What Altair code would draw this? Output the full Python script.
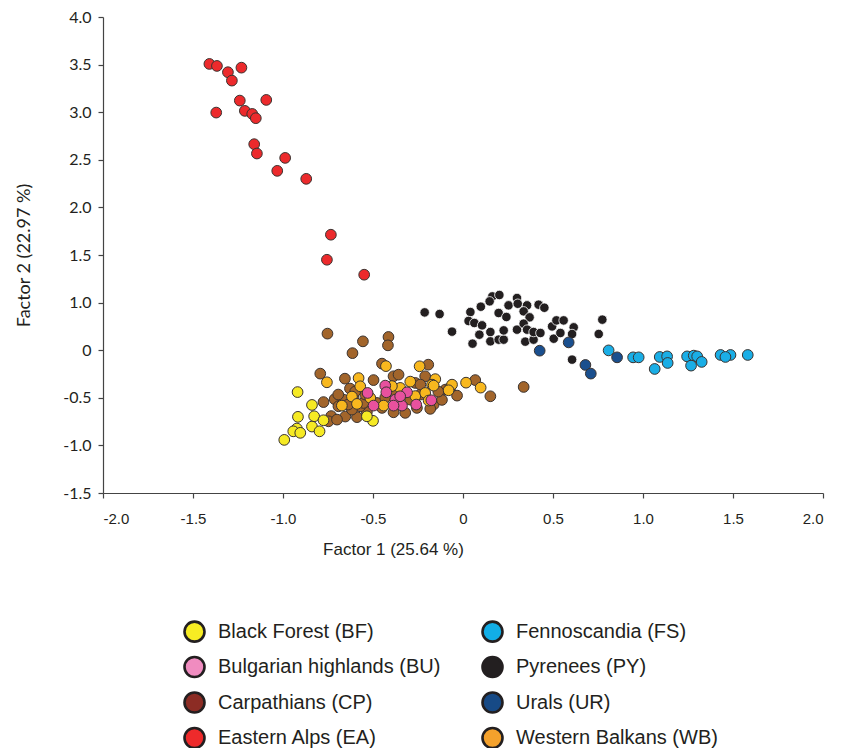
import altair as alt
import pandas as pd

# ---- data (x = Factor 1, y = Factor 2 position on the plotted scale) ----
groups = ["Black Forest (BF)", "Bulgarian highlands (BU)", "Carpathians (CP)", "Eastern Alps (EA)",
          "Fennoscandia (FS)", "Pyrenees (PY)", "Urals (UR)", "Western Balkans (WB)"]

bf_x = [-0.919, -0.839, -0.917, -0.827, -0.923, -0.943, -0.904, -0.839, -0.797, -0.993, -0.775, -0.500, -0.534]
bf_y = [-0.440, -0.575, -0.700, -0.694, -0.823, -0.852, -0.868, -0.802, -0.852, -0.942, -0.736, -0.742, -0.694]

bu_x = [-0.530, -0.497, -0.432, -0.426, -0.376, -0.339, -0.311, -0.260, -0.176, -0.386, -0.349]
bu_y = [-0.449, -0.582, -0.372, -0.442, -0.519, -0.582, -0.442, -0.571, -0.526, -0.582, -0.484]

cp_x = [-0.753, -0.556, -0.614, -0.414, -0.417, -0.450, -0.793, -0.656, -0.628, -0.775, -0.713, -0.732,
        -0.692, -0.654, -0.589, -0.534, -0.497, -0.386, -0.358, -0.321, -0.386, -0.193, -0.210, -0.163,
        -0.117, -0.033, 0.068, 0.152, -0.265, -0.256, -0.450, -0.747, -0.700, -0.571, -0.664, -0.608,
        0.337, -0.617, -0.553, -0.478, -0.182, -0.543, -0.432, -0.293, -0.237, -0.098, -0.349, -0.376,
        -0.599, -0.693, -0.638, -0.237, -0.137, -0.071]
cp_y = [0.174, 0.093, -0.031, 0.139, 0.051, -0.141, -0.246, -0.299, -0.403, -0.545, -0.514, -0.692,
        -0.589, -0.697, -0.703, -0.650, -0.314, -0.274, -0.257, -0.658, -0.652, -0.152, -0.274, -0.571,
        -0.522, -0.477, -0.314, -0.484, -0.344, -0.606, -0.606, -0.747, -0.729, -0.589, -0.519, -0.501,
        -0.386, -0.624, -0.554, -0.554, -0.616, -0.466, -0.498, -0.519, -0.466, -0.414, -0.571, -0.435,
        -0.435, -0.466, -0.571, -0.361, -0.435, -0.393]

ea_x = [-1.409, -1.367, -1.306, -1.284, -1.231, -1.240, -1.093, -1.371, -1.212, -1.171, -1.151, -1.160,
        -1.145, -0.988, -1.032, -0.871, -0.734, -0.756, -0.549]
ea_y = [3.007, 2.986, 2.920, 2.832, 2.968, 2.622, 2.629, 2.496, 2.514, 2.482, 2.437, 2.164,
        2.066, 2.020, 1.884, 1.800, 1.213, 0.950, 0.793]

fs_x = [0.809, 0.945, 0.976, 1.093, 1.134, 1.137, 1.065, 1.245, 1.282, 1.301, 1.267, 1.326, 1.431, 1.486, 1.458, 1.582]
fs_y = [-0.002, -0.075, -0.075, -0.071, -0.065, -0.134, -0.197, -0.065, -0.057, -0.065, -0.162, -0.123, -0.050, -0.050, -0.071, -0.050]

py_x = [-0.213, -0.130, -0.061, 0.041, 0.053, 0.031, 0.063, 0.106, 0.091, 0.152, 0.152, 0.198, 0.226, 0.226,
        0.163, 0.202, 0.148, 0.198, 0.241, 0.253, 0.300, 0.304, 0.356, 0.337, 0.370, 0.300, 0.337, 0.356,
        0.346, 0.392, 0.392, 0.430, 0.420, 0.452, 0.504, 0.495, 0.519, 0.559, 0.541, 0.615, 0.606, 0.754,
        0.606, 0.774, 0.099]
py_y = [0.397, 0.380, 0.195, 0.401, 0.069, 0.307, 0.286, 0.261, 0.163, 0.191, 0.093, 0.111, 0.111, 0.208,
        0.565, 0.580, 0.513, 0.391, 0.349, 0.471, 0.548, 0.488, 0.471, 0.408, 0.345, 0.216, 0.279, 0.216,
        0.090, 0.111, 0.191, 0.181, 0.478, 0.446, 0.121, 0.250, 0.313, 0.313, 0.181, 0.240, 0.170, 0.170,
        -0.099, 0.321, 0.457]

ur_x = [0.426, 0.587, 0.680, 0.710, 0.856]
ur_y = [-0.005, 0.082, -0.155, -0.246, -0.075]

wb_x = [-0.756, -0.580, -0.428, -0.241, -0.154, -0.172, -0.061, -0.080, 0.017, 0.098, -0.293, -0.673,
        -0.617, -0.589, -0.441, -0.349, -0.265, -0.210, -0.163, -0.515, -0.395, -0.571, -0.191]
wb_y = [-0.337, -0.293, -0.167, -0.169, -0.304, -0.362, -0.362, -0.421, -0.341, -0.393, -0.330, -0.582,
        -0.487, -0.564, -0.582, -0.396, -0.482, -0.449, -0.372, -0.501, -0.377, -0.379, -0.529]

point_colors = ["#f6ea24", "#e8519e", "#a2652b", "#ec2a2c", "#1aaee6", "#231f20", "#1a4f8e", "#f8b81e"]
legend_colors = ["#f7ec23", "#f08cc0", "#8c2c24", "#ee2a2b", "#12aee7", "#231f20", "#174a86", "#f4a12c"]

x_ticks = [-2.0, -1.5, -1.0, -0.5, 0.0, 0.5, 1.0, 1.5, 2.0]
y_ticks = [-1.5, -1.0, -0.5, 0.0, 0.5, 1.0, 1.5, 2.0, 2.5, 3.0, 3.5]
y_tick_labels = ["-1.5", "-1.0", "-0.5", "0", "1.0", "1.5", "2.0", "2.5", "3.0", "3.5", "4.0"]

# draw order (z): lower first
draw_rank = {"Carpathians (CP)": 0, "Black Forest (BF)": 1, "Western Balkans (WB)": 2,
             "Bulgarian highlands (BU)": 3, "Eastern Alps (EA)": 4, "Pyrenees (PY)": 5,
             "Fennoscandia (FS)": 6, "Urals (UR)": 7}

series = {
    "Black Forest (BF)": (bf_x, bf_y), "Bulgarian highlands (BU)": (bu_x, bu_y),
    "Carpathians (CP)": (cp_x, cp_y), "Eastern Alps (EA)": (ea_x, ea_y),
    "Fennoscandia (FS)": (fs_x, fs_y), "Pyrenees (PY)": (py_x, py_y),
    "Urals (UR)": (ur_x, ur_y), "Western Balkans (WB)": (wb_x, wb_y),
}
rows = []
for g, (xs, ys) in series.items():
    for i, (a, b) in enumerate(zip(xs, ys)):
        rows.append({"group": g, "f1": a, "f2": b, "rank": draw_rank[g] * 1000 + i})
df = pd.DataFrame(rows)

y_label_expr = "{" + ",".join(f"'{v:g}':'{t}'" for v, t in zip(y_ticks, y_tick_labels)) + "}"
y_label_expr = "(" + y_label_expr + ")[toString(datum.value)]"
x_label_expr = "datum.value == 0 ? '0' : (datum.value < 0 ? '-' : '') + format(abs(datum.value), '.1f')"

x_enc = alt.X("f1:Q", scale=alt.Scale(domain=[-2, 2], nice=False, zero=False),
              axis=alt.Axis(values=x_ticks, labelExpr=x_label_expr, title="Factor 1 (25.64 %)",
                            labelFont="Liberation Sans", labelFontSize=15, labelPadding=13,
                            labelOverlap=False,
                            titleFont="Liberation Sans", titleFontSize=17, titleFontWeight="normal",
                            titlePadding=15, titleX=290, titleAnchor="middle"))
y_enc = alt.Y("f2:Q", scale=alt.Scale(domain=[-1.5, 3.5], nice=False, zero=False),
              axis=alt.Axis(values=y_ticks, labelExpr=y_label_expr, title="Factor 2 (22.97 %)",
                            labelFont="Lato", labelFontSize=16, labelPadding=7, labelOverlap=False,
                            titleFont="Lato", titleFontSize=18, titleFontWeight="normal",
                            titlePadding=29))

fill_scale = alt.Scale(domain=groups, range=point_colors)

base = alt.Chart(df)

layer_a = base.transform_filter(
    alt.FieldOneOfPredicate(field="group", oneOf=["Carpathians (CP)", "Black Forest (BF)", "Western Balkans (WB)",
                                                  "Bulgarian highlands (BU)", "Eastern Alps (EA)"])
).mark_circle(size=115, opacity=1, stroke="#3a3330", strokeWidth=1).encode(
    x=x_enc, y=y_enc, fill=alt.Fill("group:N", scale=fill_scale, legend=None), order="rank:Q")

layer_b = base.transform_filter(alt.datum.group == "Pyrenees (PY)").mark_circle(
    size=90, opacity=1, stroke="white", strokeWidth=0.8).encode(
    x=x_enc, y=y_enc, fill=alt.Fill("group:N", scale=fill_scale, legend=None), order="rank:Q")

layer_c = base.transform_filter(
    alt.FieldOneOfPredicate(field="group", oneOf=["Fennoscandia (FS)", "Urals (UR)"])
).mark_circle(size=115, opacity=1, stroke="#3a3330", strokeWidth=1).encode(
    x=x_enc, y=y_enc, fill=alt.Fill("group:N", scale=fill_scale, legend=None), order="rank:Q")

layer_legend = base.transform_filter("false").transform_calculate(
    region="datum.group").mark_circle(
    size=400, opacity=1, stroke="#231f20", strokeWidth=2.6).encode(
    x=x_enc, y=y_enc,
    color=alt.Color("region:N", scale=alt.Scale(domain=groups, range=legend_colors),
                    legend=alt.Legend(orient="none", legendX=80, legendY=603, columns=2,
                                      columnPadding=36, rowPadding=4.5, title=None,
                                      symbolType="circle", symbolSize=400, symbolStrokeWidth=2.6,
                                      symbolStrokeColor="#231f20", symbolOpacity=1,
                                      labelFont="Liberation Sans", labelFontSize=20,
                                      labelColor="#231f20", labelOffset=12, labelLimit=400)))

chart = alt.layer(layer_a, layer_b, layer_c, layer_legend).properties(
    width=720, height=476, padding={"left": 95, "top": 9, "right": 14, "bottom": 255},
    autosize=alt.AutoSizeParams(type="none"),
    background="white",
).resolve_legend(color="independent", fill="independent").configure_view(stroke=None).configure_axis(
    grid=False, domainColor="#444444", domainWidth=1.2, tickColor="#444444", tickWidth=1.2,
    tickSize=5, labelColor="#231f20", titleColor="#231f20")

chart.save("out.html", embed_options={"renderer": "svg", "actions": False})
